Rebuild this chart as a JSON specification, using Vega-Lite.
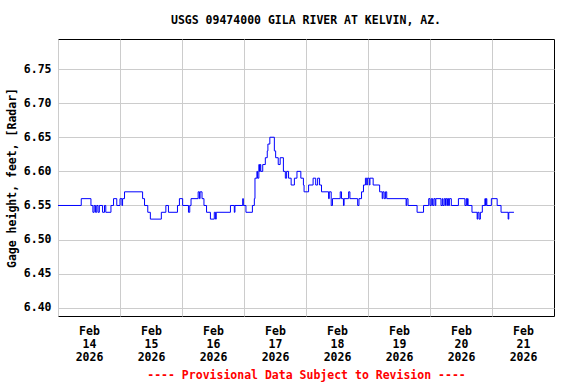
{
  "$schema": "https://vega.github.io/schema/vega-lite/v6.json",
  "autosize": "none",
  "width": 496,
  "height": 277,
  "padding": {"left": 58, "top": 39, "right": 22, "bottom": 68},
  "background": "white",
  "title": {
    "text": "USGS 09474000 GILA RIVER AT KELVIN, AZ.",
    "anchor": "middle",
    "font": "DejaVu Sans Mono",
    "fontSize": 11.5,
    "fontWeight": "bold",
    "color": "black",
    "offset": 13
  },
  "config": {
    "view": {"stroke": "black", "strokeWidth": 1},
    "axis": {
      "labelFont": "DejaVu Sans Mono",
      "labelFontWeight": "bold",
      "labelFontSize": 11.5,
      "labelColor": "black",
      "titleFont": "DejaVu Sans Mono",
      "titleFontWeight": "bold",
      "titleFontSize": 11.5,
      "gridColor": "#cccccc",
      "gridWidth": 1,
      "domain": false,
      "ticks": false
    }
  },
  "data": {
    "values": [
      {"t": "2026-02-14T00:00", "v": 6.55},
      {"t": "2026-02-14T09:00", "v": 6.56},
      {"t": "2026-02-14T12:45", "v": 6.55},
      {"t": "2026-02-14T13:30", "v": 6.54},
      {"t": "2026-02-14T14:00", "v": 6.55},
      {"t": "2026-02-14T14:30", "v": 6.54},
      {"t": "2026-02-14T15:00", "v": 6.55},
      {"t": "2026-02-14T15:30", "v": 6.54},
      {"t": "2026-02-14T16:00", "v": 6.55},
      {"t": "2026-02-14T17:15", "v": 6.54},
      {"t": "2026-02-14T18:00", "v": 6.55},
      {"t": "2026-02-14T18:30", "v": 6.54},
      {"t": "2026-02-14T20:30", "v": 6.55},
      {"t": "2026-02-14T21:30", "v": 6.56},
      {"t": "2026-02-14T22:45", "v": 6.55},
      {"t": "2026-02-15T00:00", "v": 6.56},
      {"t": "2026-02-15T00:45", "v": 6.55},
      {"t": "2026-02-15T01:00", "v": 6.56},
      {"t": "2026-02-15T01:45", "v": 6.57},
      {"t": "2026-02-15T08:45", "v": 6.56},
      {"t": "2026-02-15T09:30", "v": 6.55},
      {"t": "2026-02-15T10:45", "v": 6.54},
      {"t": "2026-02-15T11:45", "v": 6.53},
      {"t": "2026-02-15T16:00", "v": 6.54},
      {"t": "2026-02-15T17:45", "v": 6.55},
      {"t": "2026-02-15T18:45", "v": 6.54},
      {"t": "2026-02-15T22:15", "v": 6.55},
      {"t": "2026-02-15T23:00", "v": 6.56},
      {"t": "2026-02-16T00:15", "v": 6.55},
      {"t": "2026-02-16T02:30", "v": 6.54},
      {"t": "2026-02-16T03:00", "v": 6.55},
      {"t": "2026-02-16T03:30", "v": 6.56},
      {"t": "2026-02-16T06:15", "v": 6.57},
      {"t": "2026-02-16T06:45", "v": 6.56},
      {"t": "2026-02-16T07:00", "v": 6.57},
      {"t": "2026-02-16T07:45", "v": 6.56},
      {"t": "2026-02-16T08:30", "v": 6.55},
      {"t": "2026-02-16T09:30", "v": 6.54},
      {"t": "2026-02-16T11:00", "v": 6.53},
      {"t": "2026-02-16T12:30", "v": 6.54},
      {"t": "2026-02-16T13:00", "v": 6.53},
      {"t": "2026-02-16T13:15", "v": 6.54},
      {"t": "2026-02-16T18:45", "v": 6.55},
      {"t": "2026-02-16T20:15", "v": 6.54},
      {"t": "2026-02-16T20:30", "v": 6.55},
      {"t": "2026-02-16T23:30", "v": 6.56},
      {"t": "2026-02-16T23:45", "v": 6.55},
      {"t": "2026-02-17T00:45", "v": 6.54},
      {"t": "2026-02-17T03:15", "v": 6.55},
      {"t": "2026-02-17T04:00", "v": 6.56},
      {"t": "2026-02-17T04:15", "v": 6.59},
      {"t": "2026-02-17T05:00", "v": 6.60},
      {"t": "2026-02-17T05:15", "v": 6.59},
      {"t": "2026-02-17T05:45", "v": 6.61},
      {"t": "2026-02-17T06:00", "v": 6.60},
      {"t": "2026-02-17T06:15", "v": 6.61},
      {"t": "2026-02-17T06:30", "v": 6.60},
      {"t": "2026-02-17T07:15", "v": 6.61},
      {"t": "2026-02-17T08:15", "v": 6.62},
      {"t": "2026-02-17T09:00", "v": 6.63},
      {"t": "2026-02-17T09:15", "v": 6.64},
      {"t": "2026-02-17T10:00", "v": 6.65},
      {"t": "2026-02-17T11:45", "v": 6.63},
      {"t": "2026-02-17T12:15", "v": 6.62},
      {"t": "2026-02-17T13:15", "v": 6.61},
      {"t": "2026-02-17T14:00", "v": 6.62},
      {"t": "2026-02-17T15:15", "v": 6.60},
      {"t": "2026-02-17T16:00", "v": 6.59},
      {"t": "2026-02-17T16:30", "v": 6.60},
      {"t": "2026-02-17T17:15", "v": 6.59},
      {"t": "2026-02-17T18:15", "v": 6.58},
      {"t": "2026-02-17T19:30", "v": 6.59},
      {"t": "2026-02-17T20:30", "v": 6.60},
      {"t": "2026-02-17T22:00", "v": 6.59},
      {"t": "2026-02-17T23:00", "v": 6.58},
      {"t": "2026-02-17T23:15", "v": 6.57},
      {"t": "2026-02-18T01:00", "v": 6.58},
      {"t": "2026-02-18T02:45", "v": 6.59},
      {"t": "2026-02-18T03:45", "v": 6.58},
      {"t": "2026-02-18T04:30", "v": 6.59},
      {"t": "2026-02-18T05:15", "v": 6.58},
      {"t": "2026-02-18T06:00", "v": 6.57},
      {"t": "2026-02-18T08:45", "v": 6.56},
      {"t": "2026-02-18T09:00", "v": 6.57},
      {"t": "2026-02-18T09:45", "v": 6.55},
      {"t": "2026-02-18T10:15", "v": 6.56},
      {"t": "2026-02-18T13:15", "v": 6.57},
      {"t": "2026-02-18T13:45", "v": 6.56},
      {"t": "2026-02-18T14:30", "v": 6.55},
      {"t": "2026-02-18T14:45", "v": 6.56},
      {"t": "2026-02-18T16:30", "v": 6.57},
      {"t": "2026-02-18T17:00", "v": 6.56},
      {"t": "2026-02-18T20:00", "v": 6.55},
      {"t": "2026-02-18T20:30", "v": 6.56},
      {"t": "2026-02-18T21:30", "v": 6.57},
      {"t": "2026-02-18T22:15", "v": 6.58},
      {"t": "2026-02-18T23:00", "v": 6.59},
      {"t": "2026-02-18T23:30", "v": 6.58},
      {"t": "2026-02-18T23:45", "v": 6.59},
      {"t": "2026-02-19T00:30", "v": 6.58},
      {"t": "2026-02-19T00:45", "v": 6.59},
      {"t": "2026-02-19T02:00", "v": 6.58},
      {"t": "2026-02-19T04:30", "v": 6.57},
      {"t": "2026-02-19T05:30", "v": 6.56},
      {"t": "2026-02-19T05:45", "v": 6.57},
      {"t": "2026-02-19T06:15", "v": 6.56},
      {"t": "2026-02-19T06:45", "v": 6.57},
      {"t": "2026-02-19T07:15", "v": 6.56},
      {"t": "2026-02-19T14:45", "v": 6.55},
      {"t": "2026-02-19T15:00", "v": 6.56},
      {"t": "2026-02-19T15:30", "v": 6.55},
      {"t": "2026-02-19T19:00", "v": 6.54},
      {"t": "2026-02-19T21:30", "v": 6.55},
      {"t": "2026-02-19T23:30", "v": 6.56},
      {"t": "2026-02-20T00:00", "v": 6.55},
      {"t": "2026-02-20T00:30", "v": 6.56},
      {"t": "2026-02-20T01:00", "v": 6.55},
      {"t": "2026-02-20T01:30", "v": 6.56},
      {"t": "2026-02-20T02:00", "v": 6.55},
      {"t": "2026-02-20T02:15", "v": 6.56},
      {"t": "2026-02-20T04:15", "v": 6.55},
      {"t": "2026-02-20T04:45", "v": 6.56},
      {"t": "2026-02-20T05:00", "v": 6.55},
      {"t": "2026-02-20T05:30", "v": 6.56},
      {"t": "2026-02-20T06:00", "v": 6.55},
      {"t": "2026-02-20T06:15", "v": 6.56},
      {"t": "2026-02-20T06:45", "v": 6.55},
      {"t": "2026-02-20T07:00", "v": 6.56},
      {"t": "2026-02-20T07:15", "v": 6.55},
      {"t": "2026-02-20T07:30", "v": 6.56},
      {"t": "2026-02-20T08:15", "v": 6.55},
      {"t": "2026-02-20T11:00", "v": 6.56},
      {"t": "2026-02-20T13:30", "v": 6.55},
      {"t": "2026-02-20T14:00", "v": 6.56},
      {"t": "2026-02-20T14:15", "v": 6.55},
      {"t": "2026-02-20T14:30", "v": 6.56},
      {"t": "2026-02-20T14:45", "v": 6.55},
      {"t": "2026-02-20T16:15", "v": 6.54},
      {"t": "2026-02-20T18:15", "v": 6.53},
      {"t": "2026-02-20T18:30", "v": 6.54},
      {"t": "2026-02-20T19:00", "v": 6.53},
      {"t": "2026-02-20T19:30", "v": 6.54},
      {"t": "2026-02-20T20:15", "v": 6.55},
      {"t": "2026-02-20T21:15", "v": 6.56},
      {"t": "2026-02-20T21:30", "v": 6.55},
      {"t": "2026-02-20T21:45", "v": 6.56},
      {"t": "2026-02-20T22:00", "v": 6.55},
      {"t": "2026-02-20T23:45", "v": 6.56},
      {"t": "2026-02-21T02:00", "v": 6.55},
      {"t": "2026-02-21T03:30", "v": 6.54},
      {"t": "2026-02-21T06:15", "v": 6.53},
      {"t": "2026-02-21T06:30", "v": 6.54},
      {"t": "2026-02-21T08:30", "v": 6.54}
    ]
  },
  "mark": {"type": "line", "interpolate": "step-after", "color": "#0000FF", "strokeWidth": 1, "clip": true},
  "encoding": {
    "x": {
      "field": "t",
      "type": "temporal",
      "scale": {"domain": [{"year": 2026, "month": 2, "date": 14}, {"year": 2026, "month": 2, "date": 22}]},
      "axis": {
        "values": [
          {"year": 2026, "month": 2, "date": 14},
          {"year": 2026, "month": 2, "date": 15},
          {"year": 2026, "month": 2, "date": 16},
          {"year": 2026, "month": 2, "date": 17},
          {"year": 2026, "month": 2, "date": 18},
          {"year": 2026, "month": 2, "date": 19},
          {"year": 2026, "month": 2, "date": 20},
          {"year": 2026, "month": 2, "date": 21}
        ],
        "labelExpr": "[timeFormat(datum.value, '%b'), timeFormat(datum.value, '%d'), timeFormat(datum.value, '%Y')]",
        "labelOffset": 31,
        "labelFlush": false,
        "labelOverlap": false,
        "labelAlign": "center",
        "labelPadding": 9,
        "labelLineHeight": 13,
        "labelBaseline": "top",
        "title": "---- Provisional Data Subject to Revision ----",
        "titleColor": "#FF0000",
        "titlePadding": 7
      }
    },
    "y": {
      "field": "v",
      "type": "quantitative",
      "scale": {"domain": [6.388, 6.794], "zero": false, "nice": false},
      "axis": {
        "values": [6.40, 6.45, 6.50, 6.55, 6.60, 6.65, 6.70, 6.75],
        "format": ".2f",
        "labelPadding": 7,
        "title": "Gage height, feet, [Radar]",
        "titleColor": "black",
        "titlePadding": 6
      }
    }
  }
}
